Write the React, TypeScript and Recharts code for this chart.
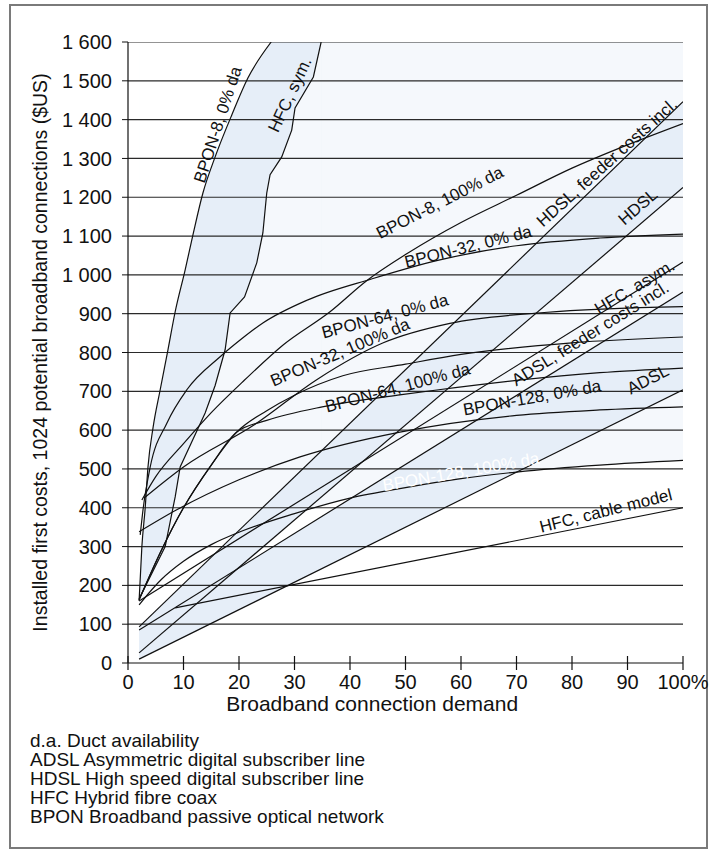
import React from "react";
import { ComposedChart, CartesianGrid, XAxis, YAxis, Line, Area, ReferenceDot } from "recharts";

// demand (%) on x, installed first cost ($US) on y
const xTicks = [0, 10, 20, 30, 40, 50, 60, 70, 80, 90, 100];
const yTicks = [0, 100, 200, 300, 400, 500, 600, 700, 800, 900, 1000, 1100, 1200, 1300, 1400, 1500, 1600];

const bpon8Da0 = [[2, 160], [2.5, 300], [3.1, 400], [3.6, 505], [4.5, 605], [5.8, 704], [7.2, 807], [8.5, 905], [10.3, 1013], [11.7, 1103], [13.5, 1211], [15.7, 1304], [18.7, 1412], [21.6, 1507], [25.8, 1600]];
const hfcSym = [[2, 165], [6.7, 300], [8.5, 428], [9.4, 505], [13.9, 644], [15.7, 715], [17.5, 807], [18.4, 902], [21, 943], [23.2, 1031], [24.3, 1108], [25, 1211], [25.6, 1258], [27.7, 1304], [29.5, 1373], [30.1, 1430], [33.4, 1510], [34.8, 1600]];
const bpon8Da100 = [[2.5, 420], [5, 480], [10, 565], [15, 645], [21, 729], [28, 820], [36.4, 905], [43, 985], [50.3, 1055], [60, 1135], [70, 1205], [80, 1275], [90, 1335], [100, 1390]];
const bpon32Da0 = [[2.2, 330], [2.7, 394], [4, 505], [7, 618], [10.6, 704], [16.6, 789], [20.2, 832], [24.3, 876], [32.3, 935], [44, 990], [56, 1038], [70, 1075], [85, 1095], [100, 1105]];
const bpon64Da0 = [[2.9, 425], [10, 505], [22.9, 615], [34, 730], [46, 825], [58, 875], [75, 903], [100, 918]];
const bpon32Da100 = [[2, 163], [6, 290], [10, 400], [15, 510], [19.6, 595], [25, 650], [30, 690], [38.7, 740], [50, 770], [60, 795], [80, 825], [100, 840]];
const bpon64Da100 = [[2, 163], [6, 290], [10, 400], [15, 510], [19.6, 595], [25, 625], [35, 660], [48.6, 690], [56, 704], [70, 728], [85, 748], [100, 760]];
const bpon128Da0 = [[2, 338], [8.7, 394], [20, 472], [31, 531], [49, 595], [70, 638], [85, 652], [100, 660]];
const bpon128Da100 = [[2, 150], [6, 215], [10, 262], [15, 305], [20.2, 338], [30, 385], [40, 425], [50, 452], [60, 475], [70, 492], [85, 510], [100, 522]];
const hdslFeeder = [[2, 93], [100, 1446]];
const hdsl = [[2, 26], [100, 1225]];
const hfcAsym = [[2, 160], [100, 1033]];
const adslFeeder = [[2, 85], [100, 956]];
const adsl = [[2, 10], [100, 704]];
const hfcCable = [[8.5, 142], [100, 400]];

const curveLabels = [
  { text: "BPON-8, 0% da", x: 16.2, y: 1387, rot: -72 },
  { text: "HFC, sym.", x: 29.2, y: 1464, rot: -65 },
  { text: "BPON-8, 100% da", x: 56.2, y: 1186, rot: -27 },
  { text: "BPON-32, 0% da", x: 61.3, y: 1072, rot: -14 },
  { text: "HDSL, feeder costs incl.", x: 86.3, y: 1289, rot: -42 },
  { text: "HDSL", x: 91.9, y: 1175, rot: -41 },
  { text: "BPON-64, 0% da", x: 46.3, y: 893, rot: -15 },
  { text: "HFC, asym.", x: 91.3, y: 968, rot: -31 },
  { text: "BPON-32, 100% da", x: 38.2, y: 800, rot: -23 },
  { text: "ADSL, feeder costs incl.", x: 83.3, y: 848, rot: -32 },
  { text: "BPON-64, 100% da", x: 48.6, y: 709, rot: -15 },
  { text: "BPON-128, 0% da", x: 72.8, y: 683, rot: -10 },
  { text: "ADSL", x: 93.7, y: 730, rot: -27 },
  { text: "BPON-128, 100% da", x: 60, y: 492, rot: -10, white: true },
  { text: "HFC, cable model", x: 86.1, y: 392, rot: -14 },
];

const notes = [
  "d.a. Duct availability",
  "ADSL Asymmetric digital subscriber line",
  "HDSL High speed digital subscriber line",
  "HFC Hybrid fibre coax",
  "BPON Broadband passive optical network",
];

const FONT = "'Liberation Sans', Arial, sans-serif";
const LIGHT = "#f5f8fc";
const MID = "#e6eef8";

const pts = (a: number[][]) => a.map(([x, y]) => ({ x, y }));
const under = (a: number[][]) => a.map(([x, y]) => ({ x, r: [0, y] }));
const between = (lo: number[][], hi: number[][]) => lo.map(([x, y], i) => ({ x, r: [y, hi[i][1]] }));

const straight = [hdslFeeder, hdsl, hfcAsym, adslFeeder, adsl, hfcCable];
const curved = [bpon8Da100, bpon32Da0, bpon64Da0, bpon32Da100, bpon64Da100, bpon128Da0, bpon128Da100];

const fmtY = (v: number) => (v >= 1000 ? `${Math.floor(v / 1000)} ${String(v % 1000).padStart(3, "0")}` : `${v}`);

const XTick = (props: any) => {
  const { x, y, payload } = props;
  const axisY = y - 12;
  return (
    <g>
      <line x1={x} x2={x} y1={axisY - 7} y2={axisY + 7} stroke="#111" strokeWidth={1.2} />
      <text x={x} y={y} dy="0.71em" textAnchor="middle" fontSize={20} fill="#111" fontFamily={FONT}>
        {payload.value === 100 ? "100%" : payload.value}
      </text>
    </g>
  );
};

const CurveLabel = (props: any) => {
  const { viewBox, text, rot, white } = props;
  const cx = viewBox.x + viewBox.width / 2;
  const cy = viewBox.y + viewBox.height / 2;
  return (
    <text x={cx} y={cy} textAnchor="middle" dominantBaseline="central" fontSize={17} fontFamily={FONT}
      fill={white ? "#ffffff" : "#111"} transform={`rotate(${rot} ${cx} ${cy})`}>
      {text}
    </text>
  );
};

const YTitle = (props: any) => {
  const { viewBox } = props;
  const cy = viewBox.y + viewBox.height / 2;
  return (
    <text x={40} y={cy} textAnchor="middle" dominantBaseline="central" fontSize={19.5} fill="#111" fontFamily={FONT}
      transform={`rotate(-90 40 ${cy})`}>
      Installed first costs, 1024 potential broadband connections ($US)
    </text>
  );
};

const XTitle = (props: any) => {
  const { viewBox } = props;
  return (
    <text x={viewBox.x + viewBox.width * 0.44} y={viewBox.y + 40} textAnchor="middle" dominantBaseline="central"
      fontSize={21} fill="#111" fontFamily={FONT}>
      Broadband connection demand
    </text>
  );
};

export default function App() {
  const topLeft = [...bpon8Da0, hfcSym[hfcSym.length - 1]];
  return (
    <div style={{ position: "absolute", left: 0, top: 0, width: 717, height: 858, background: "#fff" }}>
      <div style={{ position: "absolute", left: 9, top: 4, width: 699, height: 845, border: "2px solid #7a7a7a", boxSizing: "border-box" }} />
      <ComposedChart width={717} height={858} margin={{ top: 42, right: 34, bottom: 165, left: 0 }}
        style={{ position: "absolute", left: 0, top: 0 }}>
        <CartesianGrid fill={LIGHT} stroke="none" />
        <XAxis type="number" dataKey="x" domain={[0, 100]} ticks={xTicks} height={30} tickSize={6} tickMargin={6}
          tickLine={false} tick={<XTick />} axisLine={{ stroke: "#111", strokeWidth: 1.2 }} allowDataOverflow
          label={<XTitle />} />
        <YAxis type="number" domain={[0, 1600]} ticks={yTicks} width={128} tickSize={6} tickMargin={10} interval={0}
          tickFormatter={fmtY} tick={{ fontSize: 20, fill: "#111", fontFamily: FONT }} allowDataOverflow
          tickLine={{ stroke: "#111" }} axisLine={{ stroke: "#111", strokeWidth: 1.2 }} label={<YTitle />} />

        <Area data={under(topLeft)} dataKey="r" type="linear" stroke="none" fill={MID} fillOpacity={1} isAnimationActive={false} />
        <Area data={under(hfcSym)} dataKey="r" type="linear" stroke="none" fill={LIGHT} fillOpacity={1} isAnimationActive={false} />
        <Area data={bpon8Da0.map(([x, y]) => ({ x, r: [y, 1600] }))} dataKey="r" type="linear" stroke="none" fill="#fff" fillOpacity={1} isAnimationActive={false} />
        <Area data={[{ x: 0, r: [0, 1600] }, { x: 2, r: [0, 1600] }]} dataKey="r" type="linear" stroke="none" fill="#fff" fillOpacity={1} isAnimationActive={false} />
        <Area data={under(bpon128Da100)} dataKey="r" type="monotone" stroke="none" fill="#fff" fillOpacity={1} isAnimationActive={false} />
        <Area data={between(adsl, adslFeeder)} dataKey="r" type="linear" stroke="none" fill={MID} fillOpacity={1} isAnimationActive={false} />
        <Area data={between(hdsl, hdslFeeder)} dataKey="r" type="linear" stroke="none" fill={MID} fillOpacity={1} isAnimationActive={false} />

        {yTicks.slice(1).map((v) => (
          <Line key={`g${v}`} data={[{ x: 0, y: v }, { x: 100, y: v }]} dataKey="y" type="linear" stroke="#2a2a2a"
            strokeWidth={1.2} dot={false} activeDot={false} isAnimationActive={false} />
        ))}

        <Line data={pts(bpon8Da0)} dataKey="y" type="monotone" stroke="#111" strokeWidth={1.2} dot={false} isAnimationActive={false} />
        <Line data={pts(hfcSym)} dataKey="y" type="linear" stroke="#111" strokeWidth={1.2} dot={false} isAnimationActive={false} />
        {curved.map((c, i) => (
          <Line key={`c${i}`} data={pts(c)} dataKey="y" type="monotone" stroke="#111" strokeWidth={1.2} dot={false} isAnimationActive={false} />
        ))}
        {straight.map((c, i) => (
          <Line key={`s${i}`} data={pts(c)} dataKey="y" type="linear" stroke="#111" strokeWidth={1.2} dot={false} isAnimationActive={false} />
        ))}

        {curveLabels.map((l) => (
          <ReferenceDot key={l.text} x={l.x} y={l.y} r={0} fill="none" stroke="none"
            label={<CurveLabel text={l.text} rot={l.rot} white={l.white} />} />
        ))}
      </ComposedChart>
      <div style={{ position: "absolute", left: 30, top: 731, fontFamily: FONT, fontSize: 19, lineHeight: "19px", color: "#111", whiteSpace: "nowrap" }}>
        {notes.map((n, i) => (
          <React.Fragment key={n}>
            {i > 0 && <br />}
            {n}
          </React.Fragment>
        ))}
      </div>
    </div>
  );
}
